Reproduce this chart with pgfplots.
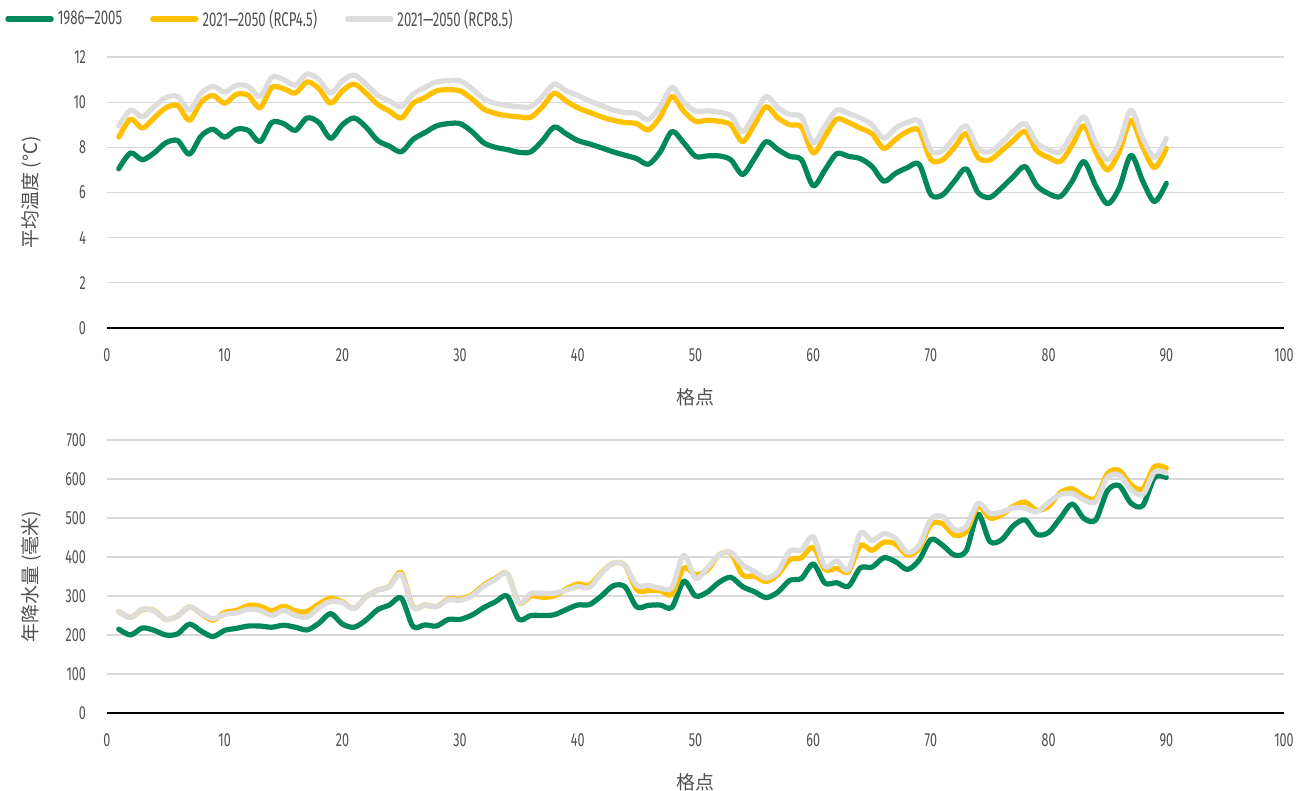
\documentclass[border=0pt]{standalone}
\usepackage{pgfplots}
\pgfplotsset{compat=1.18}
\usepackage{pgfplotstable}
\usepackage{fontspec}
\setmainfont[FakeStretch=0.66]{Fira Sans}
\newfontfamily\cjk{Noto Sans CJK SC}
\definecolor{cg}{HTML}{00875A}
\definecolor{cy}{HTML}{FFC000}
\definecolor{cr}{HTML}{DDDDDD}
\definecolor{tx}{HTML}{505050}
\definecolor{gridc}{HTML}{D9D9D9}

\pgfplotstableread{
x g y r
1 7.05 8.45 8.95
2 7.75 9.25 9.65
3 7.45 8.85 9.35
4 7.75 9.3 9.8
5 8.2 9.75 10.2
6 8.3 9.85 10.25
7 7.7 9.2 9.65
8 8.5 10.0 10.4
9 8.8 10.3 10.7
10 8.45 9.95 10.45
11 8.8 10.35 10.75
12 8.75 10.3 10.7
13 8.25 9.75 10.25
14 9.1 10.65 11.1
15 9.05 10.6 11.0
16 8.75 10.4 10.75
17 9.3 10.9 11.25
18 9.1 10.6 11.0
19 8.4 9.95 10.4
20 9.0 10.5 10.95
21 9.3 10.8 11.2
22 8.9 10.4 10.8
23 8.3 9.9 10.3
24 8.05 9.6 10.05
25 7.8 9.3 9.8
26 8.35 9.95 10.35
27 8.65 10.2 10.65
28 8.95 10.5 10.9
29 9.05 10.55 10.95
30 9.05 10.5 10.95
31 8.7 10.15 10.6
32 8.2 9.7 10.15
33 8.0 9.5 9.95
34 7.9 9.4 9.85
35 7.78 9.35 9.8
36 7.8 9.33 9.8
37 8.3 9.8 10.25
38 8.9 10.4 10.8
39 8.6 10.05 10.5
40 8.3 9.75 10.3
41 8.15 9.55 10.05
42 7.98 9.35 9.85
43 7.8 9.2 9.65
44 7.65 9.1 9.55
45 7.5 9.05 9.5
46 7.25 8.77 9.23
47 7.8 9.35 9.8
48 8.7 10.25 10.65
49 8.2 9.6 10.0
50 7.6 9.15 9.6
51 7.62 9.2 9.62
52 7.62 9.15 9.55
53 7.45 9.0 9.4
54 6.8 8.25 8.7
55 7.5 9.0 9.45
56 8.25 9.8 10.25
57 7.9 9.3 9.75
58 7.6 9.0 9.45
59 7.45 8.9 9.35
60 6.3 7.75 8.2
61 7.0 8.5 8.95
62 7.72 9.25 9.65
63 7.6 9.1 9.5
64 7.5 8.85 9.3
65 7.15 8.6 9.0
66 6.5 7.95 8.4
67 6.85 8.35 8.85
68 7.1 8.7 9.1
69 7.25 8.75 9.15
70 5.9 7.45 7.85
71 5.9 7.45 7.85
72 6.5 8.0 8.45
73 7.05 8.6 8.95
74 6.0 7.55 7.95
75 5.78 7.44 7.8
76 6.2 7.85 8.2
77 6.7 8.3 8.7
78 7.15 8.7 9.05
79 6.3 7.85 8.2
80 5.95 7.55 7.9
81 5.82 7.37 7.8
82 6.5 8.1 8.6
83 7.37 8.95 9.35
84 6.3 7.8 8.2
85 5.5 7.0 7.45
86 6.2 7.8 8.2
87 7.65 9.2 9.65
88 6.5 8.0 8.4
89 5.6 7.1 7.55
90 6.4 7.95 8.4
}\temptable

\pgfplotstableread{
x g y r
1 215 260 260
2 200 245 245
3 218 265 266
4 212 263 262
5 200 240 240
6 203 249 249
7 228 272 272
8 210 255 256
9 196 238 242
10 212 258 253
11 217 263 257
12 223 276 266
13 223 274 263
14 220 262 250
15 225 274 263
16 220 262 250
17 213 260 246
18 230 280 270
19 255 294 286
20 228 285 283
21 220 268 268
22 238 298 298
23 265 315 315
24 277 325 324
25 295 360 355
26 222 272 270
27 226 277 277
28 223 273 273
29 240 292 290
30 240 292 289
31 251 303 300
32 270 328 325
33 285 345 342
34 300 358 358
35 240 282 282
36 250 300 306
37 250 297 307
38 252 300 307
39 265 318 315
40 277 331 324
41 278 328 322
42 300 360 358
43 326 384 384
44 324 379 379
45 272 316 328
46 276 314 327
47 277 314 320
48 271 304 322
49 338 372 405
50 300 355 345
51 310 366 372
52 335 405 405
53 348 410 412
54 324 354 380
55 311 351 363
56 296 337 346
57 310 355 362
58 340 393 415
59 345 398 418
60 382 425 452
61 333 368 375
62 334 371 390
63 325 362 367
64 372 430 462
65 374 417 442
66 398 438 460
67 388 433 448
68 368 405 412
69 392 422 430
70 445 484 497
71 430 485 504
72 405 456 470
73 416 465 478
74 510 530 538
75 440 500 512
76 444 508 515
77 480 530 526
78 495 541 525
79 458 520 516
80 463 530 540
81 500 565 560
82 536 575 563
83 499 556 546
84 495 550 542
85 570 614 604
86 583 622 610
87 538 585 573
88 532 575 560
89 604 632 618
90 604 628 615
}\raintable

\pgfplotsset{
  myax/.style={
    scale only axis,
    width=588.5pt,
    xmin=0, xmax=100,
    xtick={0,10,...,100},
    axis x line*=bottom,
    axis y line*=left,
    y axis line style={draw=none},
    x axis line style={black, line width=0.8pt},
    major tick length=0pt,
    ymajorgrids,
    grid style={gridc, line width=0.6pt},
    tick label style={font=\fontsize{9.5}{11}\selectfont, text=tx},
    yticklabel style={xshift=-7pt},
    xticklabel style={yshift=-7pt},
    /pgf/number format/assume math mode=true,
    xlabel style={at={(axis description cs:0.5,-0.255)}, anchor=center, font=\cjk\fontsize{9.5}{11}\selectfont, text=tx},
    ylabel style={at={(axis description cs:-0.064,0.5)}, anchor=center, rotate=0, font=\cjk\fontsize{9.5}{11}\selectfont, text=tx},
    every axis plot/.append style={line width=2.6pt, smooth, tension=0.5, no markers, line join=round, line cap=round},
  }
}

\begin{document}
\begin{tikzpicture}
\path[use as bounding box] (-53.5pt,-231.5pt) rectangle (599pt,164pt);
\begin{axis}[myax,
  at={(0,0)}, anchor=south west,
  height=135.5pt,
  ymin=0, ymax=12, ytick={0,2,...,12},
  xlabel={格点}, ylabel={平均温度 (℃)},
  legend columns=3,
  legend style={at={(rel axis cs:-0.0867,1.14)}, anchor=west, draw=none, fill=none, inner sep=0pt,
    font=\fontsize{10}{12}\selectfont, text=tx,
    /tikz/every even column/.append style={column sep=12pt}},
  legend cell align=left,
  legend image code/.code={\draw[#1, line width=2.8pt, line cap=round] (0pt,0pt) -- (18.5pt,0pt); \path (0pt,0pt) -- (21.5pt,0pt);},
]
\addplot[cg] table[x=x, y=g] {\temptable};
\addlegendentry{1986—2005}
\addplot[cy] table[x=x, y=y] {\temptable};
\addlegendentry{2021—2050 (RCP4.5)}
\addplot[cr] table[x=x, y=r] {\temptable};
\addlegendentry{2021—2050 (RCP8.5)}
\end{axis}
\begin{axis}[myax,
  at={(0,-192.5pt)}, anchor=south west,
  height=136.5pt,
  ymin=0, ymax=700, ytick={0,100,...,700},
  xlabel={格点}, ylabel={年降水量 (毫米)},
]
\addplot[cg] table[x=x, y=g] {\raintable};
\addplot[cy] table[x=x, y=y] {\raintable};
\addplot[cr] table[x=x, y=r] {\raintable};
\end{axis}
\end{tikzpicture}
\end{document}
